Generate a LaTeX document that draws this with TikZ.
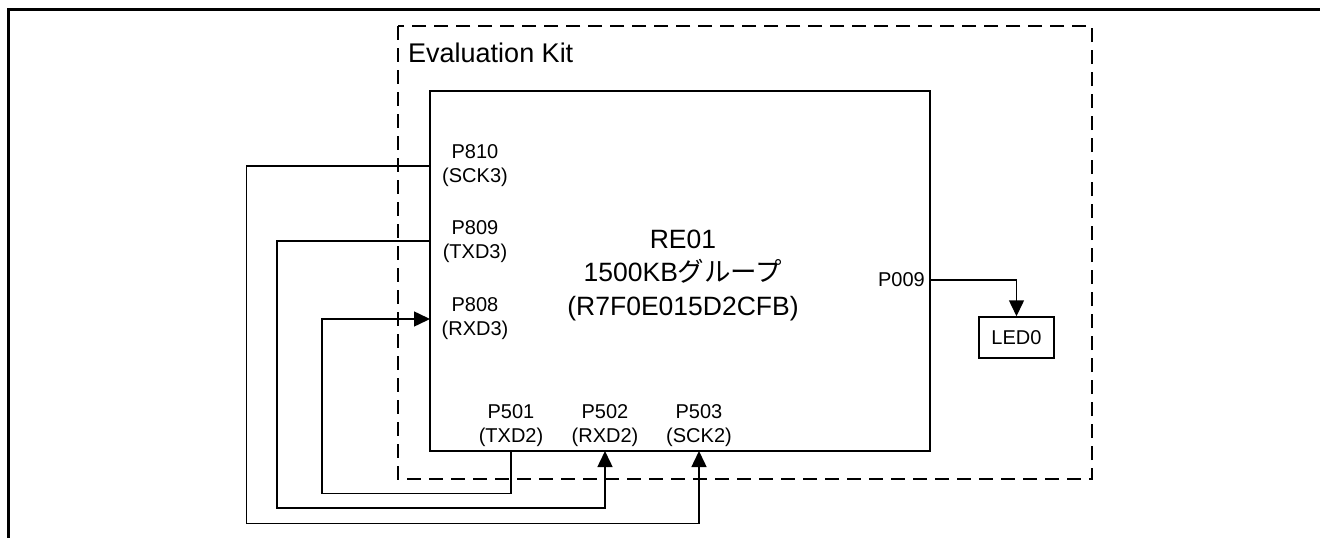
\documentclass[tikz,border=0pt]{standalone}
\usepackage{fontspec}
\setmainfont{Liberation Sans}
\newfontfamily\cjk{Noto Sans CJK JP}
\usetikzlibrary{arrows.meta,calc}
\tikzset{
  conn/.style={line width=1.5pt, draw=black},
  arr/.style={conn, -{Triangle[length=16pt,width=15pt]}},
  pinlbl/.style={font=\fontsize{20}{24}\selectfont, align=center, inner sep=0pt},
  kitbox/.style={draw=black, line width=1.5pt, dash pattern=on 14pt off 8pt},
}
\begin{document}
\begin{tikzpicture}[x=1pt,y=-1pt]
\useasboundingbox (0,0) rectangle (1320,538);
% outer frame (partial)
\draw[line width=3pt] (8,538) -- (8,9) -- (1320,9);
% evaluation kit dashed box
\draw[kitbox] (398,26) rectangle (1092,479);
\node[anchor=base west, font=\fontsize{27}{30}\selectfont, inner sep=0pt] (kit) at (408,62) {Evaluation Kit};
% chip
\node[draw=black, line width=1.8pt, minimum width=500pt, minimum height=360pt, inner sep=0pt] (chip) at (680,271) {};
\node[font=\fontsize{26.5}{33.5}\selectfont, align=center, inner sep=0pt] (chiplbl) at (683,275) {RE01\\1500KB{\cjk グループ}\\(R7F0E015D2CFB)};
% pin points
\coordinate (p810) at (430,166);
\coordinate (p809) at (430,241);
\coordinate (p808) at (430,319);
\coordinate (p501) at (511,451);
\coordinate (p502) at (605,451);
\coordinate (p503) at (699,451);
\coordinate (p009) at (930,280);
% pin labels
\node[pinlbl] (l810) at (475,166) {P810\\(SCK3)};
\node[pinlbl] (l809) at (475,242) {P809\\(TXD3)};
\node[pinlbl] (l808) at (475,319) {P808\\(RXD3)};
\node[pinlbl] (l501) at (511,426) {P501\\(TXD2)};
\node[pinlbl] (l502) at (605,426) {P502\\(RXD2)};
\node[pinlbl] (l503) at (699,426) {P503\\(SCK2)};
\node[pinlbl, anchor=east] (l009) at (925,280) {P009};
% LED
\node[draw=black, line width=1.5pt, minimum width=75pt, minimum height=41pt, inner sep=0pt, font=\fontsize{20}{24}\selectfont] (led) at (1016.5,337.5) {LED0};
% connectors
\draw[arr] (p810) -| (246.5,523.5) -| (p503);
\draw[arr] (p809) -| (277,508) -| (p502);
\draw[arr] (p501) |- (322,493.5) |- (p808);
\draw[arr] (p009) -| (led.north);
\end{tikzpicture}
\end{document}
